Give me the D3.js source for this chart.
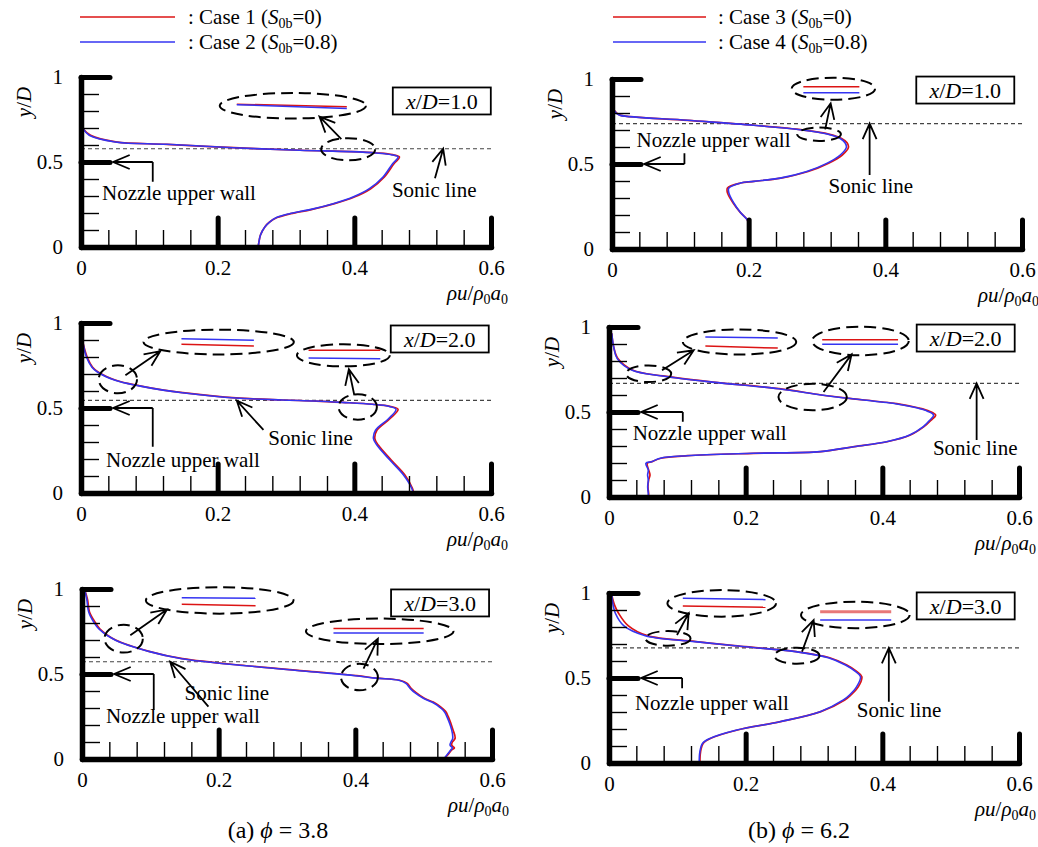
<!DOCTYPE html>
<html>
<head>
<meta charset="utf-8">
<script src="https://cdn.jsdelivr.net/npm/d3@7"></script>
<style>
  body { margin: 0; background: #fff; }
  svg, svg text { font-family: "Liberation Serif", "Times New Roman", Tinos, Times, "DejaVu Serif", serif; }
  text { fill: #000; }
</style>
</head>
<body>
<script>
// ---- Mass-flux profiles rho*u/(rho0*a0) versus y/D ----
// (a) phi = 3.8 : Case 1 (red) / Case 2 (blue)
const yA1 = [0.696,0.657,0.618,0.604,0.584,0.569,0.561,0.553,0.543,0.529,0.490,0.412,0.343,0.294,0.255,0.220,0.196,0.173,0.147,0.118,0.069,0.010,0];
const redA1 = [0.003,0.014,0.051,0.126,0.224,0.321,0.395,0.434,0.456,0.466,0.458,0.444,0.424,0.400,0.371,0.337,0.307,0.287,0.276,0.269,0.2625,0.2596,0.259];
const blueA1 = [0.003,0.012,0.050,0.125,0.223,0.320,0.393,0.432,0.454,0.464,0.456,0.442,0.422,0.398,0.369,0.335,0.305,0.286,0.276,0.269,0.2625,0.2596,0.259];

const yA2 = [0.881,0.80,0.74,0.712,0.663,0.630,0.605,0.590,0.559,0.547,0.541,0.533,0.522,0.510,0.492,0.437,0.369,0.320,0.282,0.194,0.106,0.028,0];
const redA2 = [0.003,0.009,0.017,0.025,0.051,0.086,0.121,0.149,0.227,0.295,0.344,0.383,0.427,0.452,0.464,0.452,0.433,0.430,0.435,0.454,0.474,0.485,0.487];
const blueA2 = [0.003,0.008,0.016,0.024,0.050,0.085,0.120,0.148,0.226,0.294,0.343,0.382,0.426,0.450,0.461,0.450,0.431,0.428,0.433,0.452,0.472,0.484,0.486];

const yA3 = [0.994,0.94,0.865,0.80,0.766,0.698,0.633,0.590,0.547,0.512,0.490,0.476,0.463,0.445,0.414,0.39,0.357,0.335,0.318,0.28,0.249,0.171,0.122,0.10,0.082,0.065,0.053,0.0235,0];
const redA3 = [0.004,0.008,0.011,0.020,0.026,0.050,0.098,0.147,0.245,0.343,0.402,0.431,0.465,0.476,0.482,0.489,0.501,0.514,0.521,0.532,0.536,0.543,0.546,0.542,0.541,0.545,0.541,0.535,0.530];
const blueA3 = [0.004,0.007,0.0098,0.018,0.0244,0.049,0.0976,0.146,0.244,0.341,0.400,0.429,0.4635,0.474,0.4805,0.487,0.4995,0.512,0.519,0.530,0.534,0.541,0.5425,0.540,0.5386,0.542,0.5396,0.534,0.529];

// (b) phi = 6.2 : Case 3 (red) / Case 4 (blue)
const yB1 = [0.825,0.796,0.786,0.757,0.728,0.699,0.676,0.650,0.625,0.598,0.553,0.505,0.456,0.417,0.398,0.388,0.359,0.330,0.272,0.214,0.171,0.136,0];
const redB1 = [0.0015,0.008,0.013,0.111,0.208,0.281,0.317,0.336,0.344,0.346,0.337,0.317,0.287,0.247,0.208,0.188,0.169,0.169,0.177,0.188,0.198,0.200,0.200];
const blueB1 = [0.0015,0.007,0.012,0.110,0.207,0.280,0.315,0.334,0.341,0.343,0.334,0.315,0.285,0.246,0.207,0.188,0.171,0.171,0.178,0.188,0.198,0.200,0.200];

const yB2 = [0.963,0.88,0.814,0.745,0.712,0.676,0.637,0.600,0.582,0.549,0.525,0.505,0.482,0.45,0.414,0.365,0.325,0.296,0.267,0.257,0.243,0.228,0.208,0.198,0.159,0.13,0.10,0.061,0.022,0];
const redB2 = [0.004,0.007,0.013,0.035,0.079,0.152,0.249,0.311,0.347,0.421,0.452,0.469,0.478,0.471,0.461,0.441,0.407,0.359,0.310,0.212,0.115,0.076,0.063,0.056,0.058,0.060,0.058,0.057,0.058,0.058];
const blueB2 = [0.004,0.007,0.012,0.034,0.078,0.151,0.248,0.310,0.346,0.419,0.450,0.466,0.475,0.469,0.460,0.440,0.406,0.358,0.309,0.211,0.114,0.075,0.0625,0.054,0.0575,0.0565,0.0575,0.0566,0.0575,0.0575];

const yB3 = [0.988,0.93,0.881,0.808,0.749,0.714,0.684,0.655,0.619,0.576,0.540,0.508,0.449,0.40,0.371,0.302,0.243,0.194,0.145,0.116,0.066,0];
const redB3 = [0.004,0.008,0.014,0.028,0.056,0.127,0.200,0.274,0.323,0.348,0.362,0.370,0.365,0.354,0.345,0.310,0.251,0.188,0.149,0.138,0.134,0.133];
const blueB3 = [0.004,0.006,0.0093,0.0215,0.053,0.126,0.1995,0.273,0.321,0.346,0.360,0.368,0.3625,0.352,0.343,0.309,0.250,0.187,0.148,0.137,0.133,0.132];

// Sonic-line heights (y/D) and stations (x/D)
const sonicA = [0.578, 0.545, 0.572];
const sonicB = [0.738, 0.668, 0.677];
const stations = ['1.0', '2.0', '3.0'];

// Axis ticks
const xTickValues = [0, 0.2, 0.4, 0.6];
const xTickLabels = ['0', '0.2', '0.4', '0.6'];
const yTickValues = [0, 0.5, 1];
const yTickLabels = ['0', '0.5', '1'];
const xMinor = [0.04,0.08,0.12,0.16,0.24,0.28,0.32,0.36,0.44,0.48,0.52,0.56];
const yMinor = [0.1,0.2,0.3,0.4,0.6,0.7,0.8,0.9];

// Legend
const caseNames = ['Case 1', 'Case 2', 'Case 3', 'Case 4'];
const caseS = ['0', '0.8', '0', '0.8'];
const phiValues = ['3.8', '6.2'];

const RED = '#dc1414', BLUE = '#3434f2';
const FONT = '"Liberation Serif", "Times New Roman", Tinos, Times, "DejaVu Serif", serif';
const PW = 410, PH = 170;

// Callouts, in data units of each panel
const notes = {
  a1: {
    box: [0.528, 0.859],
    ellipses: [[0.310,0.831,0.107,0.075],[0.391,0.575,0.0395,0.065]],
    insets: [[RED,0.228,0.840,0.389,0.825],[BLUE,0.228,0.837,0.389,0.815]],
    arrows: [[0.381,0.635,0.349,0.767]],
    sonicArrow: [0.518,0.404,0.530,0.578],
    sonicText: [0.455,0.294],
    wall: [0.105,0.384], wallText: [0.0307,0.276]
  },
  a2: {
    box: [0.525, 0.906],
    ellipses: [[0.2015,0.888,0.110,0.073],[0.384,0.810,0.068,0.065],[0.054,0.669,0.028,0.082],[0.405,0.506,0.028,0.075]],
    insets: [[BLUE,0.147,0.908,0.253,0.898],[RED,0.147,0.875,0.253,0.865],[RED,0.333,0.839,0.438,0.839],[BLUE,0.333,0.794,0.438,0.790]],
    arrows: [[0.065,0.692,0.116,0.834],[0.400,0.575,0.392,0.728]],
    sonicArrow: [0.267,0.371,0.228,0.543],
    sonicText: [0.274,0.282],
    wall: [0.105,0.272], wallText: [0.0366,0.155]
  },
  a3: {
    box: [0.524, 0.918],
    ellipses: [[0.2015,0.933,0.108,0.078],[0.4357,0.751,0.108,0.075],[0.061,0.708,0.028,0.082],[0.406,0.482,0.027,0.078]],
    insets: [[BLUE,0.146,0.949,0.254,0.945],[RED,0.146,0.910,0.254,0.902],[RED,0.368,0.767,0.500,0.767],[BLUE,0.368,0.741,0.500,0.741]],
    arrows: [[0.0707,0.728,0.1244,0.880],[0.412,0.531,0.433,0.708]],
    sonicArrow: [0.185,0.308,0.129,0.572],
    sonicText: [0.150,0.347],
    wall: [0.105,0.288], wallText: [0.035,0.21]
  },
  b1: {
    box: [0.517, 0.935],
    ellipses: [[0.324,0.943,0.061,0.065],[0.303,0.675,0.032,0.039]],
    insets: [[RED,0.280,0.955,0.362,0.955],[BLUE,0.280,0.919,0.362,0.919]],
    arrows: [[0.312,0.704,0.320,0.857]],
    sonicArrow: [0.377,0.435,0.377,0.738],
    sonicText: [0.317,0.328],
    wall: [0.106,0.563], wallText: [0.036,0.598]
  },
  b2: {
    box: [0.522, 0.935],
    ellipses: [[0.191,0.912,0.083,0.074],[0.368,0.918,0.0707,0.084],[0.058,0.725,0.033,0.049],[0.298,0.588,0.050,0.078]],
    insets: [[BLUE,0.141,0.941,0.247,0.935],[RED,0.141,0.888,0.247,0.876],[RED,0.312,0.925,0.423,0.925],[BLUE,0.312,0.898,0.423,0.898]],
    arrows: [[0.0776,0.745,0.124,0.863],[0.314,0.618,0.355,0.839]],
    sonicArrow: [0.538,0.335,0.538,0.668],
    sonicText: [0.474,0.247],
    wall: [0.108,0.443], wallText: [0.0347,0.335]
  },
  b3: {
    box: [0.522, 0.924],
    ellipses: [[0.165,0.939,0.0795,0.078],[0.3605,0.871,0.0795,0.078],[0.0863,0.733,0.033,0.043],[0.275,0.631,0.033,0.047]],
    insets: [[BLUE,0.108,0.969,0.229,0.961],[RED,0.108,0.924,0.229,0.916],['#e87878',0.309,0.890,0.413,0.890,3],[BLUE,0.309,0.841,0.413,0.841]],
    arrows: [[0.0995,0.753,0.1166,0.881],[0.2825,0.655,0.2995,0.841]],
    sonicArrow: [0.4095,0.361,0.4095,0.677],
    sonicText: [0.3625,0.272],
    wall: [0.107,0.44], wallText: [0.038,0.312]
  }
};

// Panel frames (pixel origin of x=0, y=0)
const panels = [
  {key:'a1', left:81,  bottom:247, y:yA1, red:redA1, blue:blueA1, sonic:sonicA[0], st:stations[0]},
  {key:'a2', left:81,  bottom:493, y:yA2, red:redA2, blue:blueA2, sonic:sonicA[1], st:stations[1]},
  {key:'a3', left:82,  bottom:759, y:yA3, red:redA3, blue:blueA3, sonic:sonicA[2], st:stations[2]},
  {key:'b1', left:612, bottom:249, y:yB1, red:redB1, blue:blueB1, sonic:sonicB[0], st:stations[0]},
  {key:'b2', left:609, bottom:497, y:yB2, red:redB2, blue:blueB2, sonic:sonicB[1], st:stations[1]},
  {key:'b3', left:609, bottom:763, y:yB3, red:redB3, blue:blueB3, sonic:sonicB[2], st:stations[2]}
];

const svg = d3.select('body').append('svg')
  .attr('width', 1038).attr('height', 847)
  .attr('font-family', FONT);

function arrowPath(x1, y1, x2, y2, L = 17, h = 0.42) {
  const a = Math.atan2(y2 - y1, x2 - x1);
  return `M${x1},${y1}L${x2},${y2}` +
    `M${x2 - L*Math.cos(a-h)},${y2 - L*Math.sin(a-h)}L${x2},${y2}L${x2 - L*Math.cos(a+h)},${y2 - L*Math.sin(a+h)}`;
}

function drawPanel(p) {
  const n = notes[p.key];
  const x = d3.scaleLinear().domain([0, 0.6]).range([p.left, p.left + PW]);
  const y = d3.scaleLinear().domain([0, 1]).range([p.bottom, p.bottom - PH]);
  const g = svg.append('g');

  // sonic line
  g.append('line')
    .attr('x1', x(0)).attr('x2', x(0.6))
    .attr('y1', y(p.sonic)).attr('y2', y(p.sonic))
    .attr('stroke', '#444').attr('stroke-width', 1.2).attr('stroke-dasharray', '4,3');

  // profiles
  const line = d3.line().x(d => x(d[0])).y(d => y(d[1])).curve(d3.curveCatmullRom.alpha(0.5));
  g.append('path').datum(d3.zip(p.red, p.y)).attr('d', line)
    .attr('fill', 'none').attr('stroke', RED).attr('stroke-width', 1.7);
  g.append('path').datum(d3.zip(p.blue, p.y)).attr('d', line)
    .attr('fill', 'none').attr('stroke', BLUE).attr('stroke-width', 1.6);

  // dashed magnifier ellipses
  n.ellipses.forEach(e => {
    g.append('ellipse')
      .attr('cx', x(e[0])).attr('cy', y(e[1]))
      .attr('rx', x(e[2]) - x(0)).attr('ry', y(0) - y(e[3]))
      .attr('fill', 'none').attr('stroke', '#000').attr('stroke-width', 2)
      .attr('stroke-dasharray', '12,6');
  });
  // enlarged line pairs inside the ellipses
  n.insets.forEach(s => {
    g.append('line')
      .attr('x1', x(s[1])).attr('y1', y(s[2])).attr('x2', x(s[3])).attr('y2', y(s[4]))
      .attr('stroke', s[0]).attr('stroke-width', s[5] || 1.5);
  });
  // pointer arrows
  n.arrows.forEach(a => {
    g.append('path').attr('d', arrowPath(x(a[0]), y(a[1]), x(a[2]), y(a[3])))
      .attr('fill', 'none').attr('stroke', '#000').attr('stroke-width', 1.8);
  });

  // sonic line label + arrow
  const sa = n.sonicArrow;
  g.append('path').attr('d', arrowPath(x(sa[0]), y(sa[1]), x(sa[2]), y(sa[3])))
    .attr('fill', 'none').attr('stroke', '#000').attr('stroke-width', 1.8);
  g.append('text').attr('x', x(n.sonicText[0])).attr('y', y(n.sonicText[1]))
    .attr('font-size', 21).text('Sonic line');

  // nozzle upper wall label + elbow arrow
  const hx = x(0.047), hy = y(0.5), ex = x(n.wall[0]), ey = y(n.wall[1]);
  g.append('path')
    .attr('d', `M${ex},${ey}L${ex},${hy}` + arrowPath(ex, hy, hx, hy, 18, 0.4).replace(/^M[^M]*/, '') + `M${ex},${hy}L${hx},${hy}`)
    .attr('fill', 'none').attr('stroke', '#000').attr('stroke-width', 1.8);
  g.append('text').attr('x', x(n.wallText[0])).attr('y', y(n.wallText[1]))
    .attr('font-size', 21).text('Nozzle upper wall');

  // station box
  const bx = x(n.box[0]), by = y(n.box[1]);
  g.append('rect').attr('x', bx - 49).attr('y', by - 13.5).attr('width', 98).attr('height', 27)
    .attr('fill', '#fff').attr('stroke', '#000').attr('stroke-width', 1.8);
  const bt = g.append('text').attr('x', bx).attr('y', by).attr('dy', '0.35em')
    .attr('text-anchor', 'middle').attr('font-size', 22);
  bt.append('tspan').attr('font-style', 'italic').text('x');
  bt.append('tspan').text('/');
  bt.append('tspan').attr('font-style', 'italic').text('D');
  bt.append('tspan').text('=' + p.st);

  // ---- axes ----
  const ax = g.append('g');
  const clean = s => s.select('.domain').remove();
  // minor ticks
  ax.append('g').attr('transform', `translate(0,${p.bottom})`)
    .call(d3.axisBottom(x).tickValues(xMinor).tickSize(-17).tickFormat(''))
    .call(clean).selectAll('line').attr('stroke-width', 1.4);
  ax.append('g').attr('transform', `translate(${p.left},0)`)
    .call(d3.axisLeft(y).tickValues(yMinor).tickSize(-18).tickFormat(''))
    .call(clean).selectAll('line').attr('stroke-width', 1.4);
  // major ticks
  ax.append('g').attr('transform', `translate(0,${p.bottom})`)
    .call(d3.axisBottom(x).tickValues([0.2, 0.4, 0.6]).tickSize(-29).tickFormat(''))
    .call(clean).selectAll('line').attr('stroke-width', 5).attr('stroke-linecap', 'round');
  ax.append('g').attr('transform', `translate(${p.left},0)`)
    .call(d3.axisLeft(y).tickValues([0.5, 1]).tickSize(-29).tickFormat(''))
    .call(clean).selectAll('line').attr('stroke-width', 5).attr('stroke-linecap', 'round');
  // axis lines
  ax.append('g').attr('transform', `translate(0,${p.bottom})`)
    .call(d3.axisBottom(x).tickValues([]).tickSizeOuter(0))
    .select('.domain').attr('stroke-width', 5.5).attr('stroke-linecap', 'round');
  ax.append('g').attr('transform', `translate(${p.left},0)`)
    .call(d3.axisLeft(y).tickValues([]).tickSizeOuter(0))
    .select('.domain').attr('stroke-width', 5.5).attr('stroke-linecap', 'round');
  // tick labels
  ax.append('g').attr('transform', `translate(0,${p.bottom})`)
    .call(d3.axisBottom(x).tickValues(xTickValues).tickFormat((d, i) => xTickLabels[i]).tickSize(0).tickPadding(13))
    .call(clean).attr('font-size', 21).attr('font-family', FONT);
  ax.append('g').attr('transform', `translate(${p.left},0)`)
    .call(d3.axisLeft(y).tickValues(yTickValues).tickFormat((d, i) => yTickLabels[i]).tickSize(0).tickPadding(18))
    .call(clean).attr('font-size', 21).attr('font-family', FONT);

  // axis titles
  const yt = g.append('text')
    .attr('transform', `translate(${p.left - 57},${p.bottom - PH + 25}) rotate(-90)`)
    .attr('text-anchor', 'middle').attr('dy', '0.35em').attr('font-size', 21);
  yt.append('tspan').attr('font-style', 'italic').text('y');
  yt.append('tspan').text('/');
  yt.append('tspan').attr('font-style', 'italic').text('D');

  const xt = g.append('text').attr('x', x(0.6) + 17).attr('y', p.bottom + 53)
    .attr('text-anchor', 'end').attr('font-size', 21);
  xt.append('tspan').attr('font-style', 'italic').text('ρu');
  xt.append('tspan').text('/');
  xt.append('tspan').attr('font-style', 'italic').text('ρ');
  xt.append('tspan').attr('font-size', 14).attr('dy', 4).text('0');
  xt.append('tspan').attr('font-style', 'italic').attr('dy', -4).text('a');
  xt.append('tspan').attr('font-size', 14).attr('dy', 4).text('0');
}

panels.forEach(drawPanel);

// ---- legends ----
const legendX = [[80, 175, 188], [613, 706, 718]];
const legendY = [17, 42];
caseNames.forEach((name, i) => {
  const col = Math.floor(i / 2), row = i % 2;
  const [l1, l2, tx] = legendX[col];
  svg.append('line').attr('x1', l1).attr('x2', l2)
    .attr('y1', legendY[row]).attr('y2', legendY[row])
    .attr('stroke', row === 0 ? RED : BLUE).attr('stroke-width', 1.6);
  const t = svg.append('text').attr('x', tx).attr('y', legendY[row] + 6.5).attr('font-size', 21);
  t.append('tspan').text(`: ${name} (`);
  t.append('tspan').attr('font-style', 'italic').text('S');
  t.append('tspan').attr('font-size', 14).attr('dy', 4).text('0b');
  t.append('tspan').attr('dy', -4).text(`=${caseS[i]})`);
});

// ---- captions ----
const captionX = [278, 799];
['(a)', '(b)'].forEach((lab, i) => {
  const t = svg.append('text').attr('x', captionX[i]).attr('y', 838)
    .attr('text-anchor', 'middle').attr('font-size', 24);
  t.append('tspan').text(lab + ' ');
  t.append('tspan').attr('font-style', 'italic').text('ϕ');
  t.append('tspan').text(' = ' + phiValues[i]);
});
</script>
</body>
</html>
